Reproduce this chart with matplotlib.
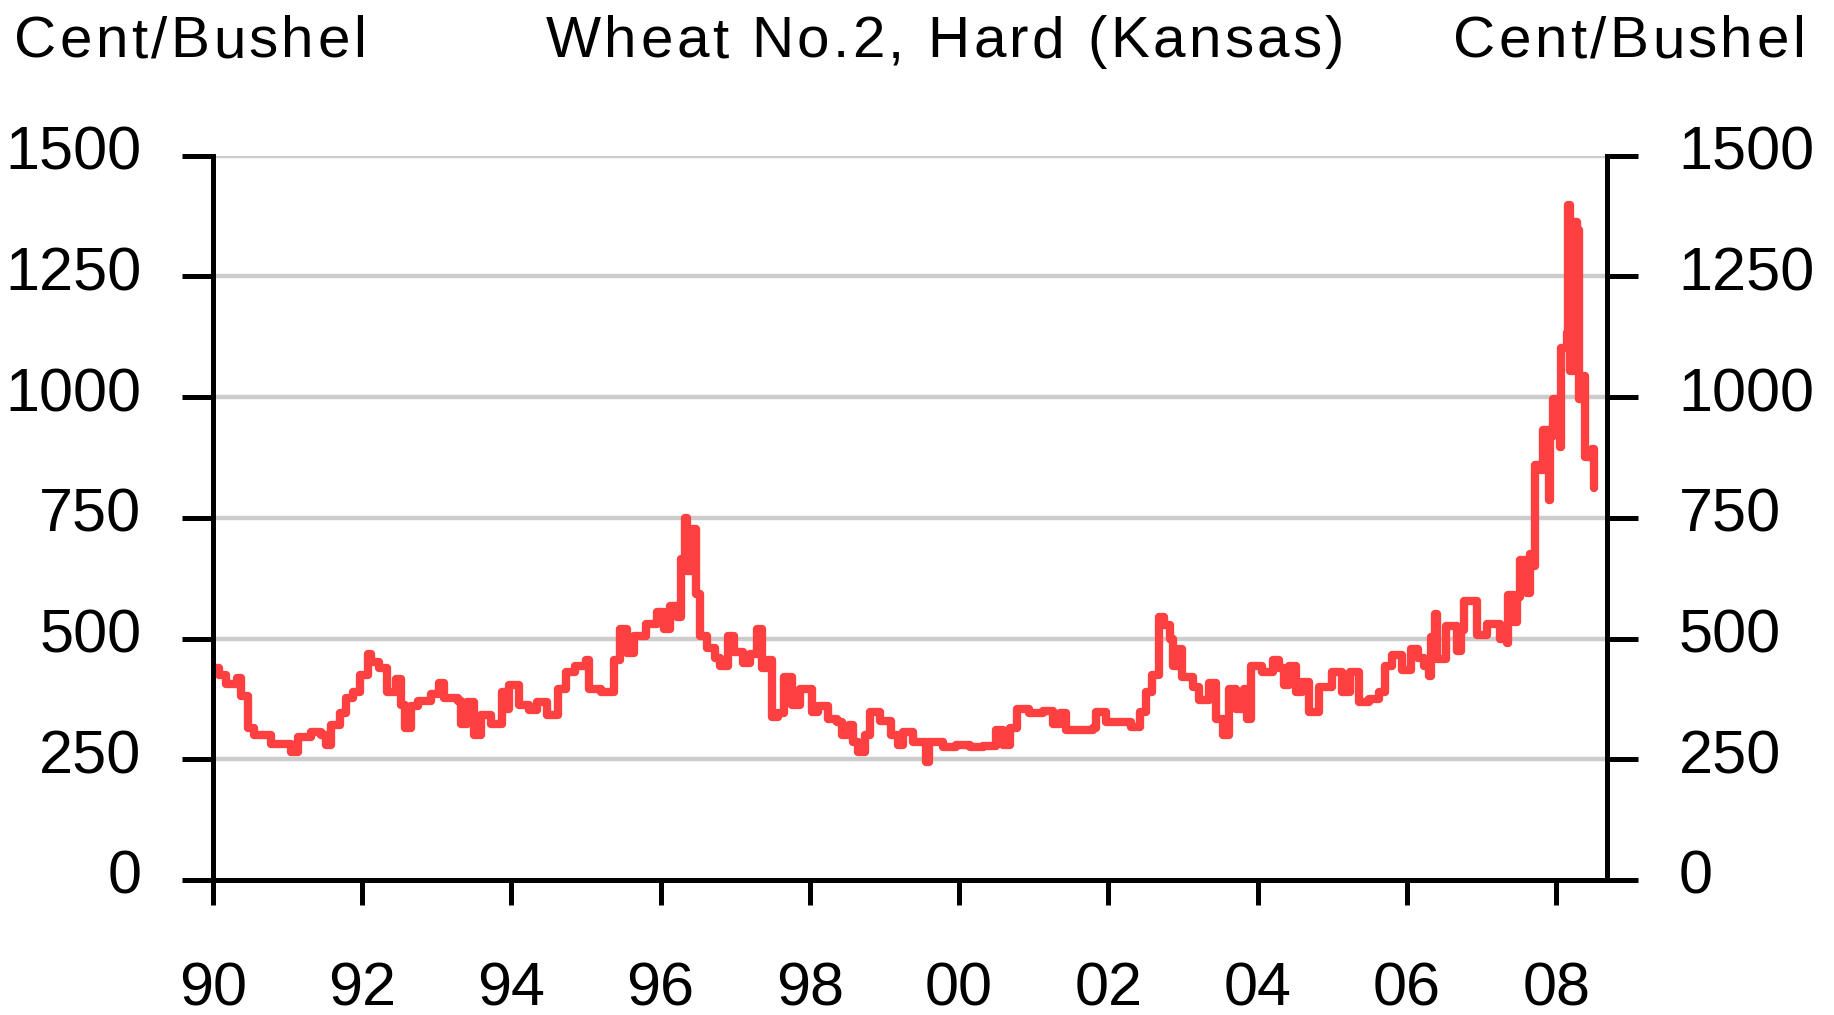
import matplotlib
matplotlib.use('Agg')
import matplotlib.pyplot as plt
import matplotlib.transforms as mtransforms
from matplotlib import font_manager
from matplotlib.ft2font import FT2Font

# weekly wheat price (decimal year, cent/bushel)
years = [
    1990.00, 1990.09, 1990.18, 1990.32, 1990.38, 1990.47, 1990.56, 1990.78,
    1991.01, 1991.05, 1991.14, 1991.32, 1991.45, 1991.52, 1991.59, 1991.70,
    1991.79, 1991.88, 1991.97, 1992.08, 1992.12, 1992.23, 1992.34, 1992.46,
    1992.52, 1992.57, 1992.66, 1992.75, 1992.92, 1993.03, 1993.10, 1993.28,
    1993.32, 1993.41, 1993.50, 1993.59, 1993.73, 1993.88, 1993.92, 1993.97,
    1994.10, 1994.24, 1994.35, 1994.48, 1994.62, 1994.73, 1994.86, 1995.00,
    1995.04, 1995.20, 1995.37, 1995.46, 1995.55, 1995.64, 1995.80, 1995.95,
    1996.04, 1996.13, 1996.22, 1996.27, 1996.33, 1996.36, 1996.42, 1996.47,
    1996.53, 1996.62, 1996.73, 1996.80, 1996.91, 1996.98, 1997.11, 1997.20,
    1997.29, 1997.36, 1997.42, 1997.49, 1997.58, 1997.65, 1997.76, 1997.87,
    1998.03, 1998.11, 1998.25, 1998.36, 1998.43, 1998.52, 1998.58, 1998.65,
    1998.74, 1998.81, 1998.94, 1999.09, 1999.18, 1999.25, 1999.38, 1999.56,
    1999.60, 1999.79, 1999.96, 2000.14, 2000.32, 2000.50, 2000.59, 2000.68,
    2000.77, 2000.94, 2001.12, 2001.26, 2001.35, 2001.43, 2001.61, 2001.79,
    2001.84, 2001.97, 2002.04, 2002.30, 2002.42, 2002.50, 2002.59, 2002.68,
    2002.75, 2002.82, 2002.86, 2002.95, 2002.99, 2003.13, 2003.22, 2003.35,
    2003.44, 2003.53, 2003.62, 2003.71, 2003.82, 2003.86, 2003.91, 2004.06,
    2004.20, 2004.29, 2004.35, 2004.42, 2004.51, 2004.60, 2004.69, 2004.82,
    2004.99, 2005.13, 2005.24, 2005.36, 2005.49, 2005.62, 2005.71, 2005.80,
    2005.94, 2006.05, 2006.15, 2006.23, 2006.29, 2006.32, 2006.38, 2006.40,
    2006.52, 2006.67, 2006.72, 2006.76, 2006.85, 2006.94, 2007.07, 2007.25,
    2007.34, 2007.36, 2007.43, 2007.47, 2007.52, 2007.61, 2007.65, 2007.67,
    2007.71, 2007.79, 2007.82, 2007.90, 2007.92, 2007.96, 2008.03, 2008.05,
    2008.07, 2008.14, 2008.16, 2008.19, 2008.23, 2008.28, 2008.30, 2008.36,
    2008.39, 2008.48, 2008.50,
]
prices = [
    440, 425, 405, 418, 382, 314, 300, 282,
    282, 266, 297, 307, 300, 280, 320, 345,
    376, 390, 424, 468, 451, 440, 390, 417,
    362, 314, 360, 370, 386, 407, 376, 370,
    324, 369, 300, 341, 324, 390, 355, 403,
    362, 352, 369, 341, 396, 431, 444, 455,
    396, 390, 455, 520, 470, 506, 530, 554,
    520, 568, 545, 664, 750, 640, 726, 592,
    506, 480, 460, 444, 506, 472, 450, 468,
    520, 440, 455, 338, 345, 420, 362, 396,
    348, 360, 334, 328, 300, 320, 286, 266,
    300, 348, 330, 300, 280, 307, 285, 245,
    285, 275, 280, 275, 278, 310, 280, 314,
    355, 345, 350, 324, 345, 310, 310, 315,
    348, 328, 328, 317, 348, 390, 424, 544,
    527, 500, 444, 479, 420, 400, 372, 407,
    334, 300, 396, 355, 396, 334, 444, 430,
    455, 440, 403, 444, 390, 410, 348, 400,
    430, 390, 430, 369, 375, 390, 444, 465,
    434, 479, 460, 444, 423, 504, 551, 457,
    525, 474, 517, 577, 577, 508, 530, 500,
    491, 590, 534, 585, 662, 594, 675, 650,
    859, 850, 931, 786, 919, 996, 996, 897,
    1102, 1133, 1398, 1055, 1363, 1346, 996, 1043,
    876, 893, 812,
]

x_ticks = list(range(1990, 2009, 2))
x_labels = ['90', '92', '94', '96', '98', '00', '02', '04', '06', '08']
y_ticks = [0, 250, 500, 750, 1000, 1250, 1500]

W, H, DPI = 1834, 1015, 100
FAMILY = 'Liberation Sans'
plt.rcParams['font.family'] = FAMILY

fig = plt.figure(figsize=(W / DPI, H / DPI), dpi=DPI)
left, right, top, bottom = 212.7, 1607.0, 155.6, 880.0
ax = fig.add_axes([left / W, 1 - bottom / H, (right - left) / W, (bottom - top) / H])

for y in y_ticks[1:]:
    ax.axhline(y, color='#cccccc', lw=3.2, zorder=1)

ax.plot(years, prices, color='#ff4040', lw=6, drawstyle='steps-post',
        solid_joinstyle='round', solid_capstyle='round', zorder=3)

ax.set_xlim(1990, 2008.68)
ax.set_ylim(0, 1500)
ax.set_xticks(x_ticks)
ax.set_xticklabels(x_labels)
ax.set_yticks(y_ticks)

ax.spines['top'].set_visible(False)
for s in ['left', 'right', 'bottom']:
    ax.spines[s].set_linewidth(3.6)
    ax.spines[s].set_zorder(4)

ax.tick_params(axis='y', direction='out', length=22.5, width=3.6, labelsize=44,
               pad=29, left=True, right=True, labelleft=True, labelright=True)
ax.tick_params(axis='x', direction='out', length=18, width=3.6, labelsize=44, pad=41)

# y labels sit a little above their ticks in the original
shift = mtransforms.ScaledTranslation(0, 8 / DPI, fig.dpi_scale_trans)
for t in ax.yaxis.get_major_ticks():
    t.label1.set_transform(t.label1.get_transform() + shift)
    t.label2.set_transform(t.label2.get_transform() + shift)


def spaced_text(x_px, base_px, s, size, gap, align='left'):
    # draw text char by char to get the wide letter spacing of the original
    font = FT2Font(font_manager.findfont(font_manager.FontProperties(family=FAMILY)))
    font.set_size(size, DPI)
    advs = [font.load_char(ord(c)).linearHoriAdvance / 65536 for c in s]
    total = sum(advs) + gap * (len(s) - 1)
    if align == 'right':
        x_px -= total
    for c, a in zip(s, advs):
        if c != ' ':
            fig.text(x_px / W, 1 - base_px / H, c, fontsize=size, ha='left', va='baseline')
        x_px += a + gap


spaced_text(14, 57.3, 'Cent/Bushel', 42, 3.4)
spaced_text(546, 57.3, 'Wheat No.2, Hard (Kansas)', 42, 3.4)
spaced_text(1805, 57.3, 'Cent/Bushel', 42, 3.4, align='right')

fig.savefig('out.png', dpi=DPI)
